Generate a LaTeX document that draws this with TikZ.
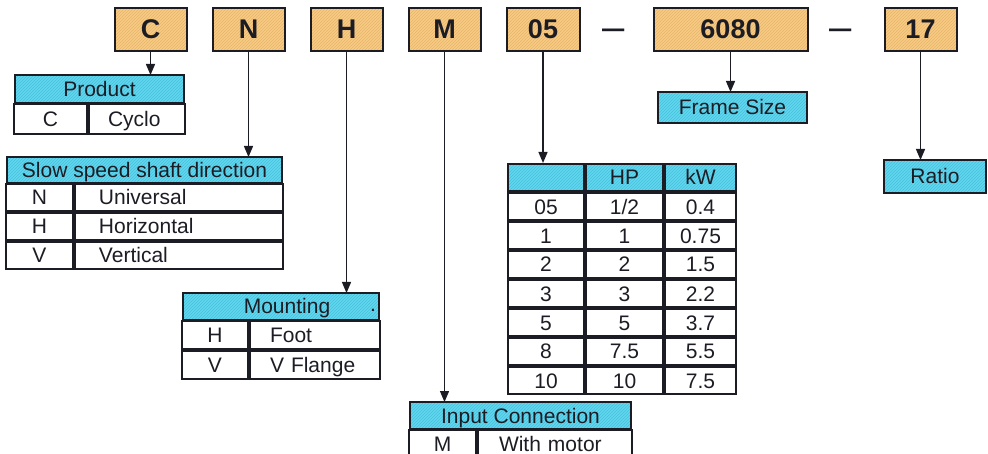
\documentclass[tikz,border=0pt]{standalone}
\usepackage{fontspec}
\setmainfont{Liberation Sans}
\usetikzlibrary{matrix,arrows.meta,positioning,patterns}

\definecolor{codefill}{HTML}{F8CB85}
\definecolor{codehatch}{HTML}{E8B46A}
\definecolor{headfill}{HTML}{62D6EE}
\definecolor{headhatch}{HTML}{45C2DE}
\definecolor{ink}{HTML}{1C1C24}

\tikzset{
  code/.style={draw=ink, line width=2pt, preaction={fill=codefill},
    pattern=north east lines, pattern color=codehatch,
    font=\fontsize{27}{27}\selectfont\bfseries, text=ink,
    minimum width=72pt, minimum height=43pt, inner sep=0pt, outer sep=0pt,
    text height=19pt, text depth=0pt},
  cell/.style={draw=ink, line width=2pt, inner sep=0pt, outer sep=0pt,
    font=\fontsize{21}{21}\selectfont, text=ink, text height=16pt, text depth=1pt},
  headbox/.style={cell, preaction={fill=headfill},
    pattern=north east lines, pattern color=headhatch},
  tbl/.style={matrix of nodes, nodes in empty cells, row sep=0pt, column sep=0pt,
    inner sep=0pt, outer sep=0pt, nodes={cell, minimum height=#1}},
  sep/.style={font=\fontsize{40}{40}\selectfont, text=ink, inner sep=0pt, anchor=base},
  link/.style={color=ink, line width=1.3pt, -{Triangle[length=11pt,width=9pt]}}
}

\begin{document}
\begin{tikzpicture}[x=1pt, y=-1pt]
  \useasboundingbox (0,0) rectangle (988,454);

  \node[code] (cC) at (150.5,29.5) {C};
  \node[code, right=26pt of cC] (cN) {N};
  \node[code, right=26pt of cN] (cH) {H};
  \node[code, right=26pt of cH] (cM) {M};
  \node[code, right=26pt of cM, minimum width=73pt] (c05) {05};
  \node[code, right=74pt of c05, minimum width=154pt] (c6080) {6080};
  \node[code, right=77pt of c6080] (c17) {17};
  \node[sep] (dash1) at (614,40.4) {–};
  \node[sep] (dash2) at (841,40.4) {–};

  \node[headbox, minimum width=169pt, minimum height=28pt] (prodhead) at (99.5,89) {Product};
  \matrix (prod) [tbl=30pt, below=0pt of prodhead,
    column 1/.style={nodes={minimum width=73pt}},
    column 2/.style={nodes={text width=58pt, inner xsep=19pt, align=left}}]
  {
    C & Cyclo \\
  };

  \node[headbox, minimum width=275pt, minimum height=26pt] (slowhead) at (144.5,170) {Slow speed shaft direction};
  \matrix (slow) [tbl=27pt, below=0pt of slowhead,
    column 1/.style={nodes={minimum width=67pt}},
    column 2/.style={nodes={text width=160pt, inner xsep=24pt, align=left}}]
  {
    N & Universal \\
    H & Horizontal \\
    V & Vertical \\
  };

  \node[headbox, minimum width=196pt, minimum height=27pt, text width=196pt, align=center] (mounthead) at (281,306.5) {\hspace*{12pt}Mounting};
  \node[cell, draw=none, anchor=base] (mountdot) at (373,312) {.};
  \matrix (mount) [tbl=28pt, below=0pt of mounthead,
    column 1/.style={nodes={minimum width=66pt}},
    column 2/.style={nodes={text width=90pt, inner xsep=20pt, align=left}}]
  {
    H & Foot \\
    V & V Flange \\
  };

  \node[headbox, minimum width=221pt, minimum height=27pt] (inhead) at (520.5,415.5) {Input Connection};
  \matrix (input) [tbl=27pt, below=0pt of inhead,
    column 1/.style={nodes={minimum width=67pt}},
    column 2/.style={nodes={text width=112pt, inner xsep=21pt, align=left}}]
  {
    M & With motor \\
  };

  \matrix (hp) [tbl=27pt, anchor=north west, row 1/.style={nodes={headbox}},
    column 1/.style={nodes={minimum width=76pt}},
    column 2/.style={nodes={minimum width=77pt}},
    column 3/.style={nodes={minimum width=71pt}}] at (507,163)
  {
       & HP  & kW   \\
    05 & 1/2 & 0.4  \\
    1  & 1   & 0.75 \\
    2  & 2   & 1.5  \\
    3  & 3   & 2.2  \\
    5  & 5   & 3.7  \\
    8  & 7.5 & 5.5  \\
    10 & 10  & 7.5  \\
  };

  \node[headbox, minimum width=149pt, minimum height=31pt] (frame) at (732.5,107.5) {Frame Size};
  \node[headbox, minimum width=102pt, minimum height=33pt] (ratio) at (935,176.5) {Ratio};

  \path[link]
    (cC.south) edge (cC.south |- prodhead.north)
    (cN.south) edge (cN.south |- slowhead.north)
    (cH.south) edge (cH.south |- mounthead.north)
    (cM.south) edge (cM.south |- inhead.north)
    (c05.south) edge (c05.south |- hp.north)
    (c6080.south) edge (c6080.south |- frame.north)
    (c17.south) edge (c17.south |- ratio.north);
\end{tikzpicture}
\end{document}
